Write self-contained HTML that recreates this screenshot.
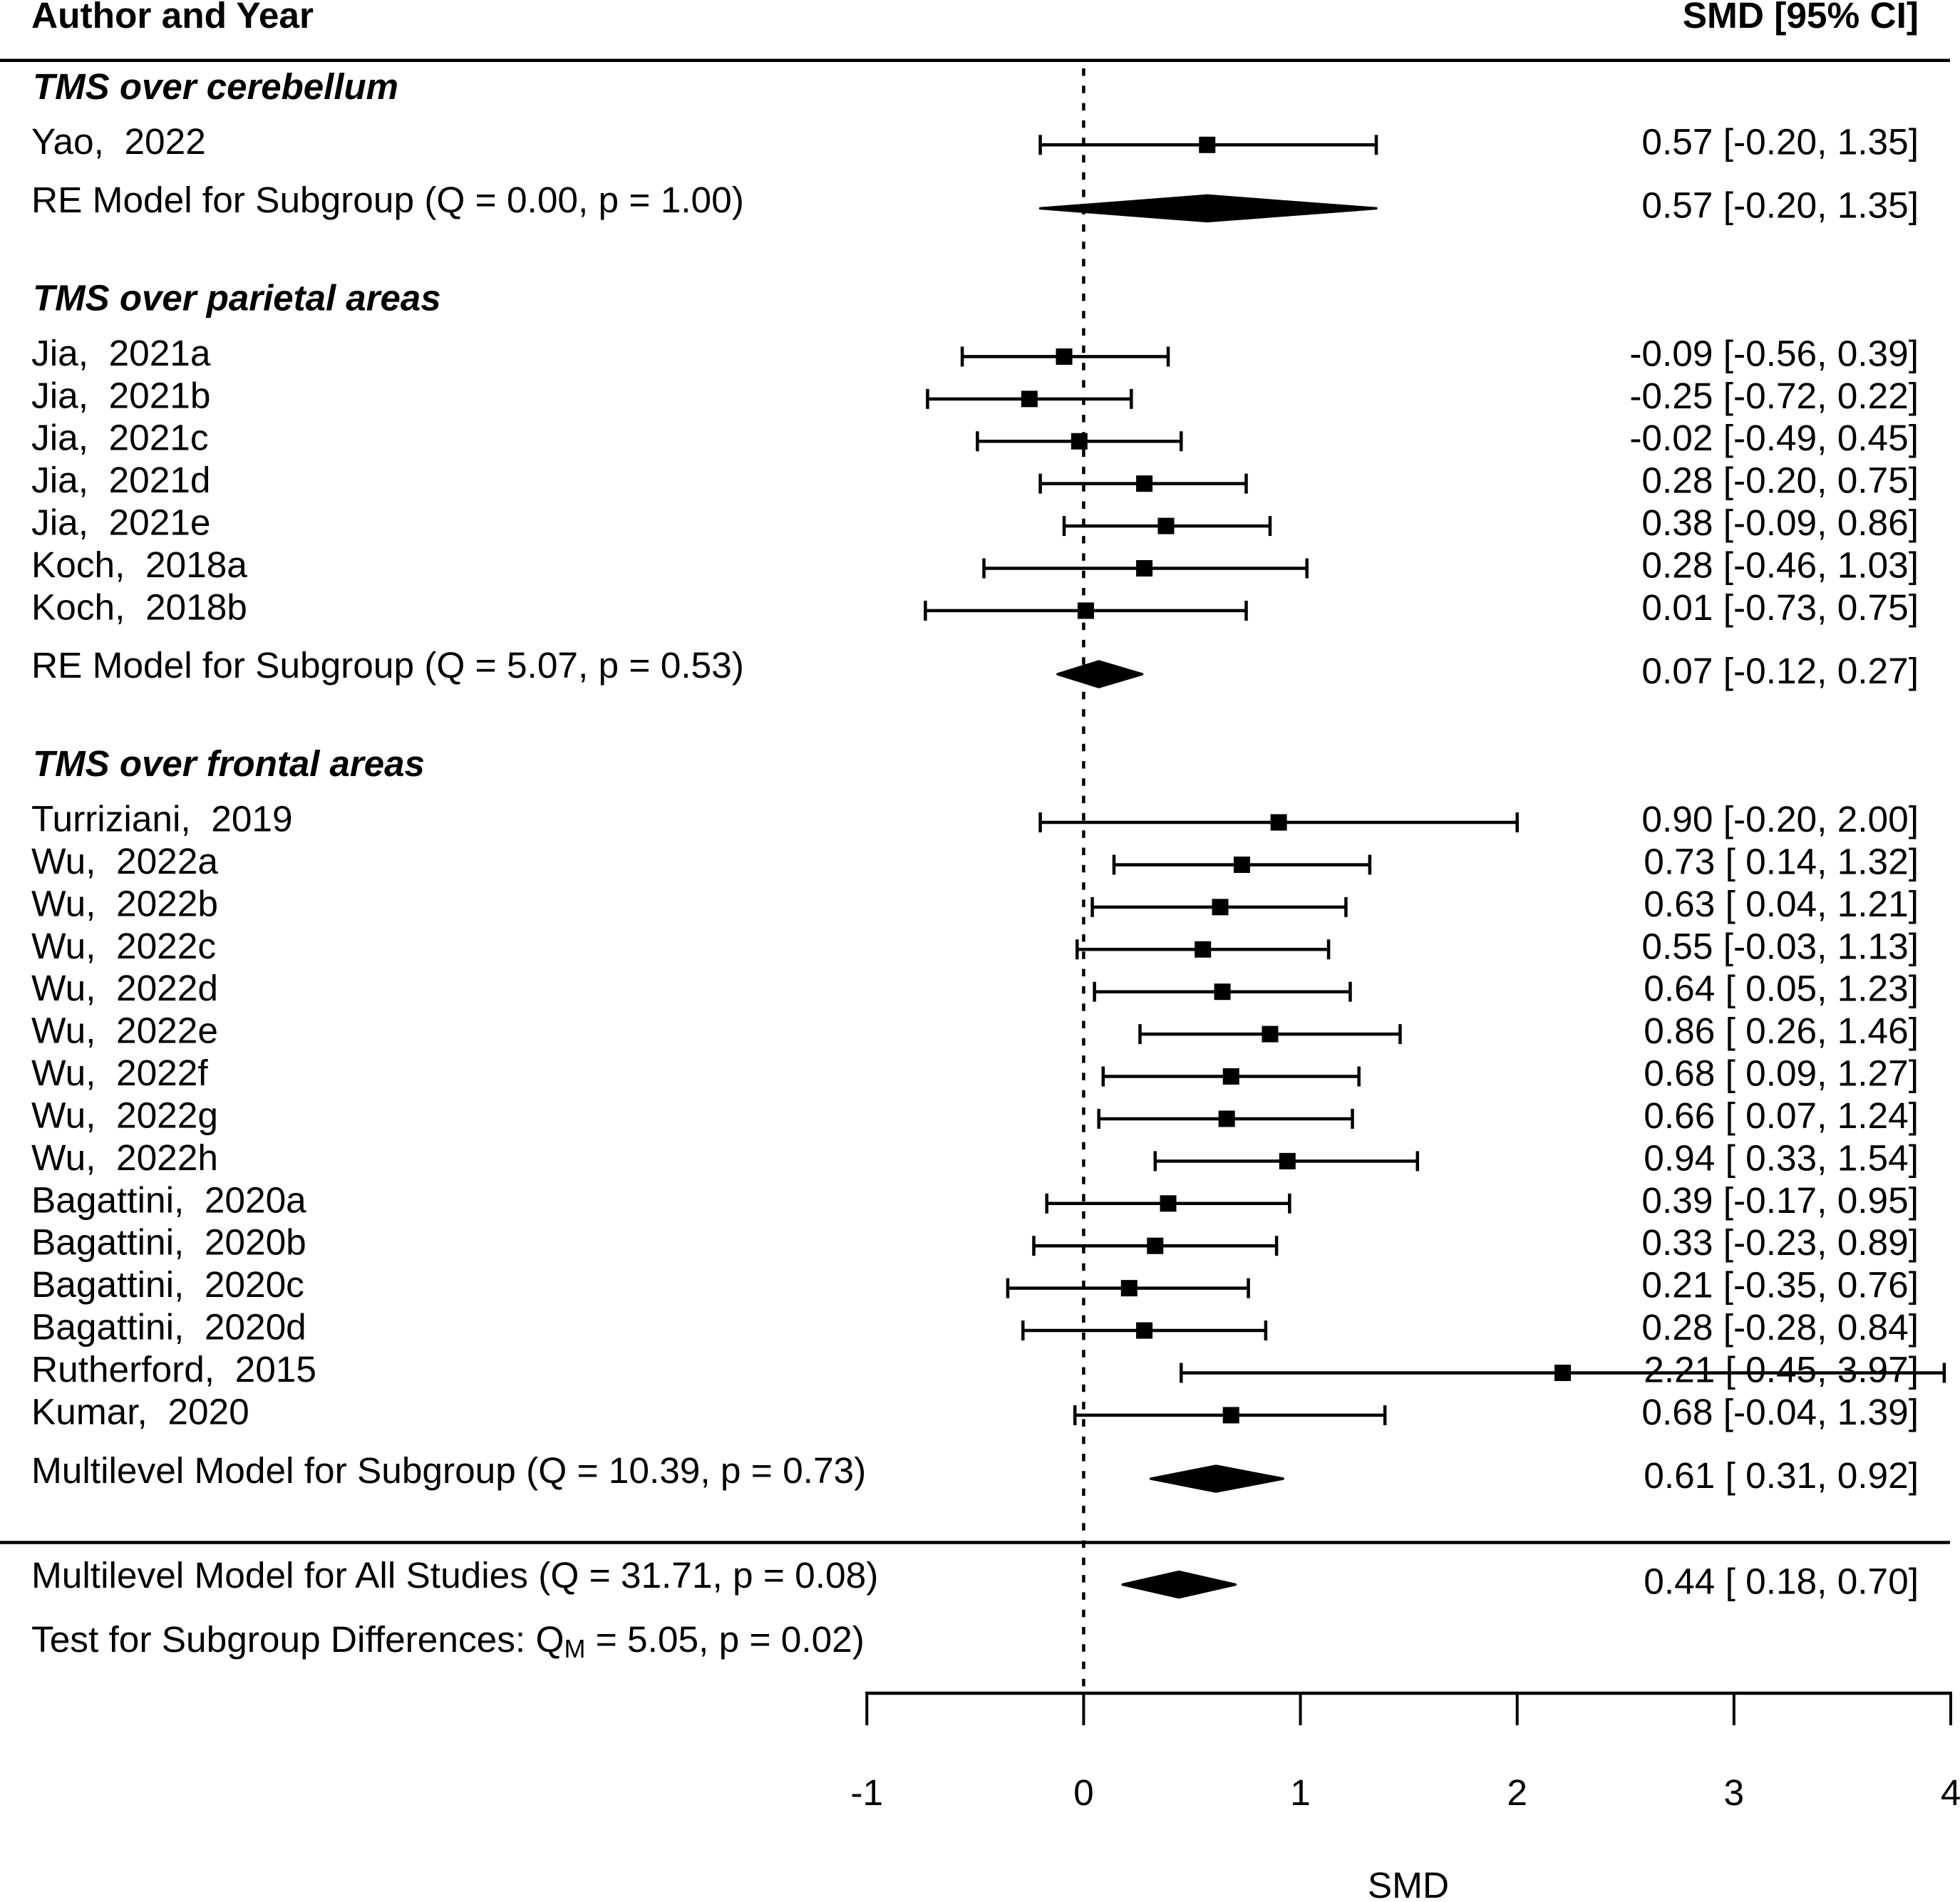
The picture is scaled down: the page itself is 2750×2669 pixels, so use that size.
<!DOCTYPE html>
<html lang="en">
<head>
<meta charset="utf-8">
<title>Forest plot of TMS effects</title>
<style>
html,body{margin:0;padding:0;background:#fff;}
body{width:2750px;height:2669px;overflow:hidden;}
svg{display:block;}
text{font-family:"Liberation Sans",Arial,sans-serif;font-size:51.4px;fill:#000;white-space:pre;}
.bold{font-weight:bold;font-size:51.4px;}
.section{font-weight:bold;font-style:italic;font-size:51px;}
</style>
</head>
<body>
<svg id="chart" xmlns="http://www.w3.org/2000/svg" width="2750" height="2669" viewBox="0 0 2750 2669">
  <rect x="0" y="0" width="2750" height="2669" fill="#fff"/>
  <text class="bold" x="44" y="39">Author and Year</text>
  <text class="bold" x="2692" y="39" text-anchor="end">SMD [95% CI]</text>
  <line x1="0" x2="2736" y1="84.7" y2="84.7" stroke="#000" stroke-width="4.5"/>
  <line x1="0" x2="2736" y1="2164.5" y2="2164.5" stroke="#000" stroke-width="4.5"/>
  <text class="section" x="46" y="139">TMS over cerebellum</text>
  <text class="section" x="46" y="435.5">TMS over parietal areas</text>
  <text class="section" x="46" y="1089">TMS over frontal areas</text>
  <text x="44" y="298">RE Model for Subgroup (Q = 0.00, p = 1.00)</text>
  <text x="44" y="951">RE Model for Subgroup (Q = 5.07, p = 0.53)</text>
  <text x="44" y="2081">Multilevel Model for Subgroup (Q = 10.39, p = 0.73)</text>
  <text x="44" y="2228">Multilevel Model for All Studies (Q = 31.71, p = 0.08)</text>
  <text x="44" y="2318">Test for Subgroup Differences: Q<tspan font-size="36" dy="8">M</tspan><tspan dy="-8"> = 5.05, p = 0.02)</tspan></text>
  <text x="1976" y="2663" text-anchor="middle">SMD</text>
  <g id="marks"></g>
</svg>
<script>
// Study data
const cerebellumStudies = ["Yao,  2022"];
const cerebellumEstimates = [0.57];
const cerebellumLower = [-0.20];
const cerebellumUpper = [1.35];

const parietalStudies = ["Jia,  2021a","Jia,  2021b","Jia,  2021c","Jia,  2021d","Jia,  2021e","Koch,  2018a","Koch,  2018b"];
const parietalEstimates = [-0.09,-0.25,-0.02,0.28,0.38,0.28,0.01];
const parietalLower = [-0.56,-0.72,-0.49,-0.20,-0.09,-0.46,-0.73];
const parietalUpper = [0.39,0.22,0.45,0.75,0.86,1.03,0.75];

const frontalStudies = ["Turriziani,  2019","Wu,  2022a","Wu,  2022b","Wu,  2022c","Wu,  2022d","Wu,  2022e","Wu,  2022f","Wu,  2022g","Wu,  2022h","Bagattini,  2020a","Bagattini,  2020b","Bagattini,  2020c","Bagattini,  2020d","Rutherford,  2015","Kumar,  2020"];
const frontalEstimates = [0.90,0.73,0.63,0.55,0.64,0.86,0.68,0.66,0.94,0.39,0.33,0.21,0.28,2.21,0.68];
const frontalLower = [-0.20,0.14,0.04,-0.03,0.05,0.26,0.09,0.07,0.33,-0.17,-0.23,-0.35,-0.28,0.45,-0.04];
const frontalUpper = [2.00,1.32,1.21,1.13,1.23,1.46,1.27,1.24,1.54,0.95,0.89,0.76,0.84,3.97,1.39];

// Subgroup summaries: cerebellum, parietal, frontal
const summaryEstimates = [0.57,0.07,0.61];
const summaryLower = [-0.20,-0.12,0.31];
const summaryUpper = [1.35,0.27,0.92];

// Overall summary
const overallEstimate = [0.44];
const overallLower = [0.18];
const overallUpper = [0.70];

const axisTicks = [-1,0,1,2,3,4];
const referenceValue = [0];

const NS = "http://www.w3.org/2000/svg";
const marks = document.getElementById("marks");

function xScale(v){ return 1520.4 + 304.15 * v; }
function yScale(row){ return 203.3 + 59.42 * row; }

function make(tag, attrs){
  const el = document.createElementNS(NS, tag);
  for (const k in attrs) el.setAttribute(k, attrs[k]);
  marks.appendChild(el);
  return el;
}
function signed(v){ return v.toFixed(2); }
function ciLabel(est, lo, hi){
  const loText = lo < 0 ? signed(lo) : " " + signed(lo);
  return signed(est) + " [" + loText + ", " + signed(hi) + "]";
}

function drawValueText(est, lo, hi, row){
  const el = make("text", {x: 2692, y: yScale(row) + 13, "text-anchor": "end"});
  el.textContent = ciLabel(est, lo, hi);
  
  
}

function drawStudy(name, est, lo, hi, row){
  const y = yScale(row);
  const label = make("text", {x: 44, y: y + 12.5});
  label.textContent = name;
  
  

  const ci = make("line", {x1: xScale(lo), x2: xScale(hi), y1: y, y2: y, stroke: "#000", "stroke-width": 4.5});
  
  

  const capLo = make("line", {x1: xScale(lo), x2: xScale(lo), y1: y - 14, y2: y + 14, stroke: "#000", "stroke-width": 4.5});
  
  

  const capHi = make("line", {x1: xScale(hi), x2: xScale(hi), y1: y - 14, y2: y + 14, stroke: "#000", "stroke-width": 4.5});
  
  

  const box = make("rect", {x: xScale(est) - 11.5, y: y - 11.5, width: 23, height: 23, fill: "#000"});
  
  

  drawValueText(est, lo, hi, row);
}

function drawDiamond(est, lo, hi, row){
  const y = yScale(row);
  const pts = [[xScale(lo), y], [xScale(est), y - 18], [xScale(hi), y], [xScale(est), y + 18]]
    .map(function(p){ return p.join(","); }).join(" ");
  const d = make("polygon", {points: pts, fill: "#000", stroke: "#000", "stroke-width": 3.5, "stroke-linejoin": "round"});
  
  
  drawValueText(est, lo, hi, row);
}

// Reference line first so marks sit on top of it
const refLine = make("line", {x1: xScale(referenceValue[0]), x2: xScale(referenceValue[0]), y1: 96, y2: 2375,
  stroke: "#000", "stroke-width": 4.5, "stroke-dasharray": "10.5 13.8"});



// Walk the rows group by group
let row = 0;
cerebellumStudies.forEach(function(name, i){
  drawStudy(name, cerebellumEstimates[i], cerebellumLower[i], cerebellumUpper[i], row);
  row += 1;
});
row += 0.5;
drawDiamond(summaryEstimates[0], summaryLower[0], summaryUpper[0], row);
row += 3.5;
parietalStudies.forEach(function(name, i){
  drawStudy(name, parietalEstimates[i], parietalLower[i], parietalUpper[i], row);
  row += 1;
});
row += 0.5;
drawDiamond(summaryEstimates[1], summaryLower[1], summaryUpper[1], row);
row += 3.5;
frontalStudies.forEach(function(name, i){
  drawStudy(name, frontalEstimates[i], frontalLower[i], frontalUpper[i], row);
  row += 1;
});
row += 0.5;
drawDiamond(summaryEstimates[2], summaryLower[2], summaryUpper[2], row);
row += 2.5;
drawDiamond(overallEstimate[0], overallLower[0], overallUpper[0], row);

// X axis
const axisLine = make("line", {x1: xScale(axisTicks[0]) - 2, x2: xScale(axisTicks[axisTicks.length - 1]) + 2, y1: 2376, y2: 2376, stroke: "#000", "stroke-width": 4.5});



axisTicks.forEach(function(t){
  const tick = make("line", {x1: xScale(t), x2: xScale(t), y1: 2374, y2: 2421, stroke: "#000", "stroke-width": 4});
  
  
  const lab = make("text", {x: xScale(t), y: 2533, "text-anchor": "middle"});
  lab.textContent = String(t);
  
  
});
</script>
</body>
</html>
